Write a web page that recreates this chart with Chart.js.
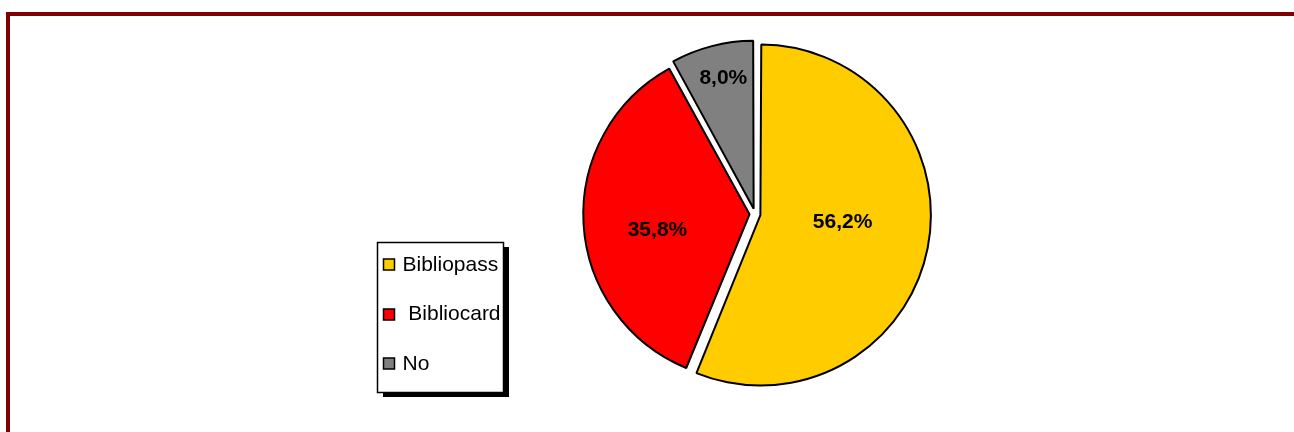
<!DOCTYPE html>
<html lang="it">
<head>
<meta charset="UTF-8">
<title>Bibliopass / Bibliocard</title>
<script src="https://cdn.jsdelivr.net/npm/chart.js"></script>
<style>
  html, body { margin: 0; padding: 0; background: #fff; overflow: hidden; }
  #frame {
    position: absolute; left: 6px; top: 12px; right: 0; bottom: 0;
    border-top: 4px solid #800000; border-left: 4px solid #800000;
  }
  #pie { position: absolute; left: 0; top: 0; }
</style>
</head>
<body>
<div id="frame"></div>
<canvas id="pie" width="1294" height="432"></canvas>
<script>
// categories and shares (%)
const categories = ['Bibliopass', ' Bibliocard', 'No'];
const shares = [56.2, 35.8, 8.0];
const sliceColors = ['#FFCC00', '#FF0000', '#808080'];

// where each percentage sits inside its slice: fraction of radius, angle shift (deg)
const labelPlace = [
  { r: 0.50, shift: -6.3 },
  { r: 0.566, shift: -6.5 },
  { r: 0.81, shift: 1.3 }
];

const FONT = '"Liberation Sans", Arial, sans-serif';
const OFFSET = 22;

// percentage labels drawn at each arc
const sliceLabels = {
  id: 'sliceLabels',
  afterDatasetsDraw(chart) {
    const ctx = chart.ctx;
    const meta = chart.getDatasetMeta(0);
    ctx.save();
    ctx.font = 'bold 21px ' + FONT;
    ctx.fillStyle = '#000';
    ctx.textAlign = 'center';
    ctx.textBaseline = 'middle';
    meta.data.forEach((arc, i) => {
      const p = arc.getProps(['x', 'y', 'startAngle', 'endAngle', 'outerRadius'], true);
      const mid = (p.startAngle + p.endAngle) / 2;
      const cx = p.x + Math.cos(mid) * OFFSET / 4;
      const cy = p.y + Math.sin(mid) * OFFSET / 4;
      const a = mid + labelPlace[i].shift * Math.PI / 180;
      const d = p.outerRadius * labelPlace[i].r;
      const v = chart.data.datasets[0].data[i];
      ctx.fillText(v.toFixed(1).replace('.', ',') + '%', cx + Math.cos(a) * d, cy + Math.sin(a) * d);
    });
    ctx.restore();
  }
};

// boxed legend with drop shadow on the left
const boxLegend = {
  id: 'boxLegend',
  afterDraw(chart) {
    const ctx = chart.ctx;
    const bx = 377, by = 242, bw = 126, bh = 150;
    ctx.save();
    ctx.fillStyle = '#000';
    ctx.fillRect(bx + 6, by + 5, bw, bh);
    ctx.fillStyle = '#fff';
    ctx.fillRect(bx, by, bw, bh);
    ctx.strokeStyle = '#000';
    ctx.lineWidth = 1.5;
    ctx.strokeRect(bx + 0.5, by + 0.5, bw, bh);

    ctx.font = '21px ' + FONT;
    ctx.textBaseline = 'middle';
    ctx.textAlign = 'left';
    ctx.lineWidth = 1.5;
    chart.data.labels.forEach((lab, i) => {
      const y = 265 + i * 49.5;
      ctx.fillStyle = chart.data.datasets[0].backgroundColor[i];
      ctx.fillRect(383.5, Math.round(y) - 6, 11, 11);
      ctx.strokeRect(383.5, Math.round(y) - 6, 11, 11);
      ctx.fillStyle = '#000';
      ctx.fillText(lab, 402.5, y);
    });
    ctx.restore();
  }
};

new Chart(document.getElementById('pie'), {
  type: 'pie',
  data: {
    labels: categories,
    datasets: [{
      data: shares,
      backgroundColor: sliceColors,
      borderColor: '#000',
      borderWidth: 2,
      hoverBorderWidth: 2,
      offset: OFFSET,
      hoverOffset: OFFSET
    }]
  },
  options: {
    responsive: false,
    animation: false,
    events: [],
    layout: { padding: { left: 578, right: 362, top: 37, bottom: 41 } },
    plugins: {
      legend: { display: false },
      tooltip: { enabled: false },
      title: { display: false }
    }
  },
  plugins: [sliceLabels, boxLegend]
});
</script>
</body>
</html>
